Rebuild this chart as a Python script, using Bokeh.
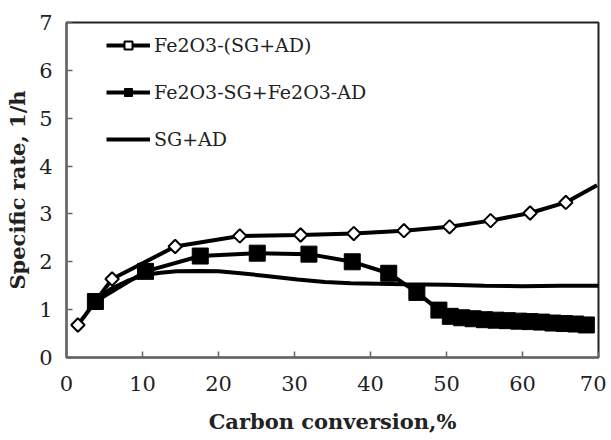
import numpy as np
from bokeh.plotting import figure
from bokeh.models import Legend, LegendItem, FixedTicker, Range1d
from bokeh.embed import file_html
from bokeh.resources import INLINE

# Fe2O3-(SG+AD): open diamonds
dia_x = [1.5, 6.0, 14.3, 22.8, 30.8, 37.8, 44.4, 50.4, 55.8, 61.0, 65.7, 69.8]
dia_y = [0.68, 1.64, 2.32, 2.54, 2.56, 2.59, 2.65, 2.73, 2.86, 3.02, 3.24, 3.60]
dia_mark_x = [1.5, 6.0, 14.3, 22.8, 30.8, 37.8, 44.4, 50.4, 55.8, 61.0, 65.7]
dia_mark_y = [0.68, 1.64, 2.32, 2.54, 2.56, 2.59, 2.65, 2.73, 2.86, 3.02, 3.24]

# Fe2O3-SG+Fe2O3-AD: filled squares
sq_x = [3.8, 10.4, 17.6, 25.1, 31.9, 37.6, 42.4, 46.1, 49.0, 50.5, 52.0, 53.5, 55.0,
        56.5, 58.0, 59.5, 61.0, 62.5, 64.0, 65.5, 67.0, 68.4]
sq_y = [1.17, 1.80, 2.12, 2.18, 2.16, 2.00, 1.76, 1.36, 0.99, 0.86, 0.83, 0.81, 0.79,
        0.78, 0.77, 0.76, 0.75, 0.74, 0.72, 0.71, 0.70, 0.68]

# SG+AD: line only
sg_x = [3.5, 5.8, 8.0, 10.4, 12.4, 14.5, 17.6, 20.0, 22.9, 26.0, 30.4, 34.0, 37.4,
        41.0, 44.4, 50.0, 55.0, 60.0, 65.0, 70.0]
sg_y = [1.12, 1.43, 1.60, 1.73, 1.77, 1.80, 1.81, 1.80, 1.76, 1.71, 1.63, 1.58, 1.55,
        1.54, 1.53, 1.52, 1.50, 1.49, 1.50, 1.50]

labels = ["Fe2O3-(SG+AD)", "Fe2O3-SG+Fe2O3-AD", "SG+AD"]
x_ticks = [0, 10, 20, 30, 40, 50, 60, 70]
y_ticks = [0, 1, 2, 3, 4, 5, 6, 7]

p = figure(width=606, height=436, output_backend="svg", toolbar_location=None,
           x_range=Range1d(0, 70), y_range=Range1d(0, 7),
           min_border_left=66, min_border_right=8, min_border_top=22,
           min_border_bottom=69)
p.background_fill_color = "white"
p.border_fill_color = "white"
p.xgrid.visible = False
p.ygrid.visible = False
p.outline_line_color = "#222222"
p.outline_line_width = 2

SERIF = "DejaVu Serif"
for ax in (p.xaxis[0], p.yaxis[0]):
    ax.axis_line_color = "#666666"
    ax.axis_line_width = 2
    ax.major_tick_in = 6
    ax.major_tick_out = 0
    ax.major_tick_line_color = "#666666"
    ax.major_tick_line_width = 1.5
    ax.minor_tick_line_color = None
    ax.major_label_text_font = SERIF
    ax.major_label_text_font_size = "21px"
    ax.major_label_text_color = "#222222"
    ax.axis_label_text_font = SERIF
    ax.axis_label_text_font_style = "bold"
    ax.axis_label_text_font_size = "21px"
    ax.axis_label_text_color = "#222222"

p.xaxis.ticker = FixedTicker(ticks=x_ticks)
p.yaxis.ticker = FixedTicker(ticks=y_ticks)
p.xaxis.axis_label = "Carbon conversion,%"
p.yaxis.axis_label = "Specific rate, 1/h"
p.xaxis.major_label_standoff = 18
p.yaxis.major_label_standoff = 14
p.xaxis.axis_label_standoff = 15
p.yaxis.axis_label_standoff = 6

LW = 4
r_sg = p.line(sg_x, sg_y, line_color="black", line_width=LW)
r_sq_l = p.line(sq_x, sq_y, line_color="black", line_width=LW)
r_sq_m = p.scatter(sq_x, sq_y, marker="square", size=16, fill_color="black",
                   line_color="black")
r_d_l = p.line(dia_x, dia_y, line_color="black", line_width=LW)
r_d_m = p.scatter(dia_mark_x, dia_mark_y, marker="square", angle=np.pi / 4, size=9.5,
                  fill_color="white", line_color="black", line_width=2)

legend = Legend(items=[
    LegendItem(label=labels[0], renderers=[r_d_l, r_d_m]),
    LegendItem(label=labels[1], renderers=[r_sq_l, r_sq_m]),
    LegendItem(label=labels[2], renderers=[r_sg]),
], location=(40, 207))
legend.background_fill_alpha = 0
legend.border_line_color = None
legend.glyph_width = 44
legend.glyph_height = 20
legend.label_height = 20
legend.spacing = 25
legend.padding = 10
legend.margin = 0
legend.label_standoff = 4
legend.label_text_font = SERIF
legend.label_text_font_size = "19px"
legend.label_text_color = "#222222"
p.add_layout(legend)

open("out.html", "w").write(file_html(p, INLINE))
